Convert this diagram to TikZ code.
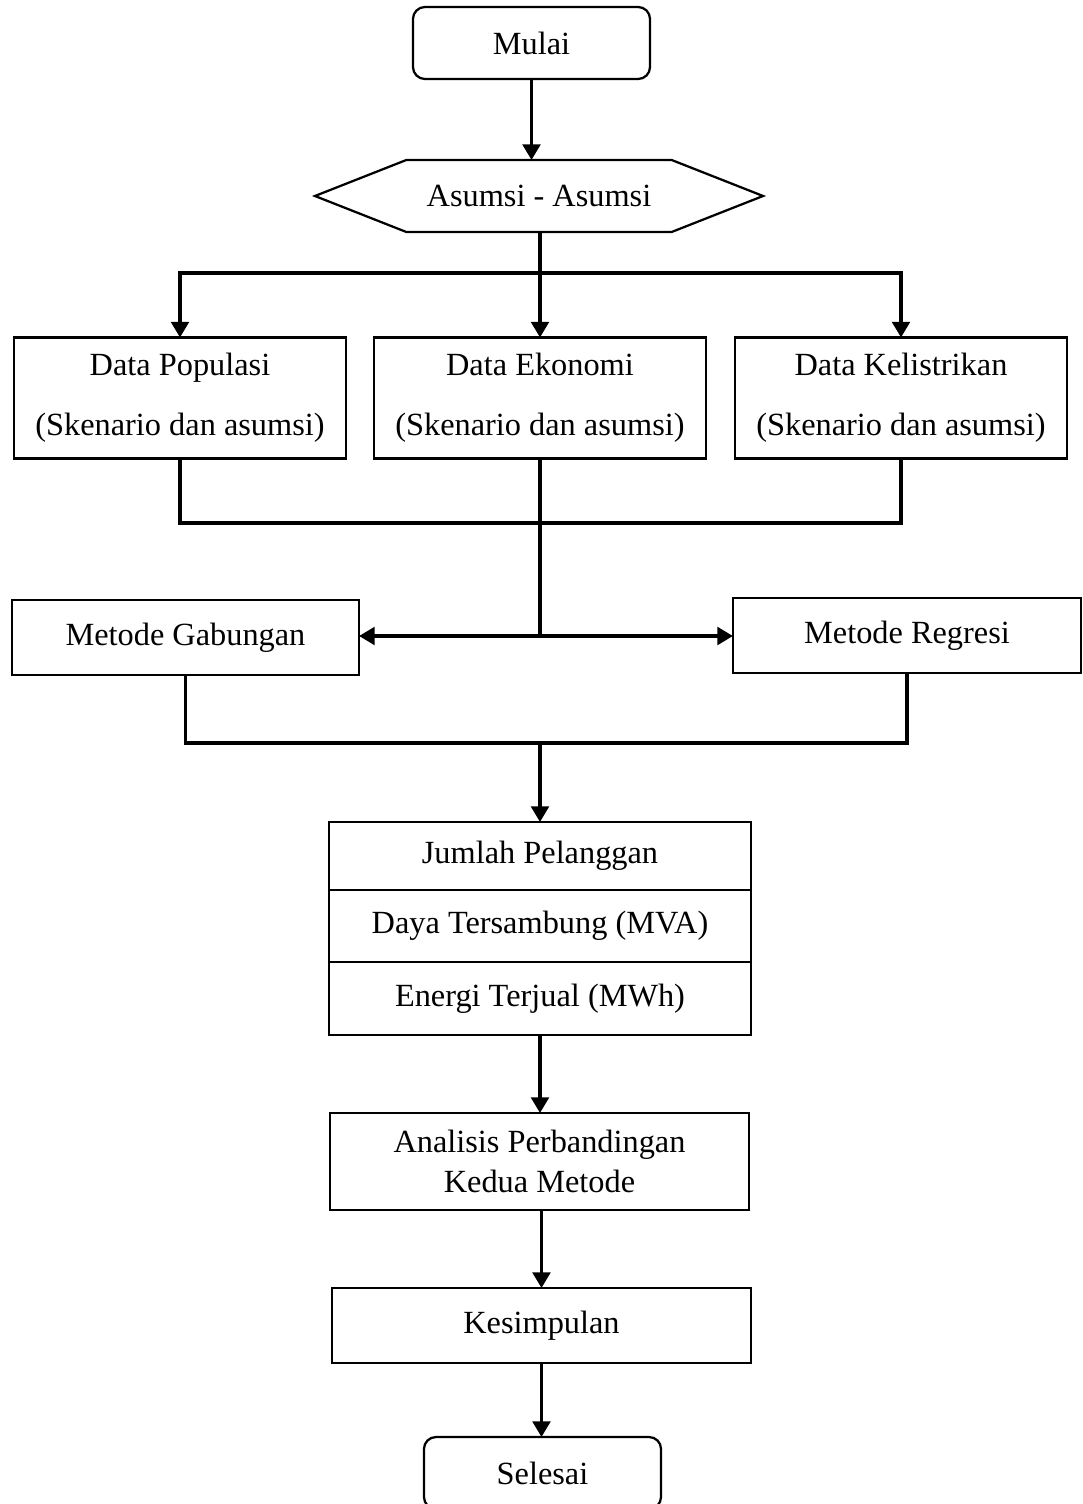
\documentclass[tikz,border=0pt]{standalone}
\usepackage{fontspec}
\setmainfont{Liberation Serif}
\usetikzlibrary{arrows.meta,shapes.symbols}
\begin{document}
\begin{tikzpicture}[x=0.025cm,y=-0.025cm,
   every node/.style={font=\fontsize{23}{28.5}\selectfont,inner sep=0pt,outer sep=0pt},
   box/.style={draw,line width=1.6pt,align=center},
   term/.style={box,rounded corners=0.3cm},
   conn/.style={line width=2.4pt},
   arr/.style={conn,-{Triangle[width=0.44cm,length=0.39cm]}}]
   \useasboundingbox (0,0) rectangle (1083,1504);
   % Top
   \node[term,minimum width=5.925cm,minimum height=1.8cm] (mulai) at (531.5,43) {Mulai};
   \node[box,shape=signal,signal to=west and east,signal pointer angle=43,
     minimum width=11.2cm,minimum height=1.8cm] (asumsi) at (539,196) {Asumsi - Asumsi};
   % Data
   \node[box,minimum width=8.3cm,minimum height=3.025cm] (pop) at (180,398) {Data Populasi\\[14pt](Skenario dan asumsi)};
   \node[box,minimum width=8.3cm,minimum height=3.025cm] (eko) at (540,398) {Data Ekonomi\\[14pt](Skenario dan asumsi)};
   \node[box,minimum width=8.3cm,minimum height=3.025cm] (kel) at (901,398) {Data Kelistrikan\\[14pt](Skenario dan asumsi)};
   % Methods
   \node[box,minimum width=8.675cm,minimum height=1.875cm] (gab) at (185.5,637.5) {Metode Gabungan};
   \node[box,minimum width=8.7cm,minimum height=1.875cm] (reg) at (907,635.5) {Metode Regresi};
   % Results
   \node[box,minimum width=10.55cm,minimum height=1.7cm] (jumlah) at (540,856) {Jumlah Pelanggan};
   \node[box,minimum width=10.55cm,minimum height=1.8cm] (daya) at (540,926) {Daya Tersambung (MVA)};
   \node[box,minimum width=10.55cm,minimum height=1.825cm] (energi) at (540,998.5) {Energi Terjual (MWh)};
   \node[box,minimum width=10.475cm,minimum height=2.425cm] (analisis) at (539.5,1161.5) {Analisis Perbandingan\\Kedua Metode};
   \node[box,minimum width=10.475cm,minimum height=1.875cm] (kesimpulan) at (541.5,1325.5) {Kesimpulan};
   \node[term,minimum width=5.925cm,minimum height=1.8cm] (selesai) at (542.5,1473) {Selesai};
   % Junctions
   \coordinate (split) at (540,273);
   \coordinate (merge1) at (540,523);
   \coordinate (fork) at (540,636);
   \coordinate (merge2) at (540,743);
   % Arrows
   \draw[arr] (mulai.south) -- (mulai.south |- asumsi.north);
   \draw[arr] (split |- asumsi.south) -- (eko.north);
   \draw[arr] (split) -| (pop.north);
   \draw[arr] (split) -| (kel.north);
   \draw[conn] (pop.south) |- (merge1) -| (kel.south);
   \draw[conn] (eko.south) -- (fork);
   \draw[arr] (fork) -- (fork -| gab.east);
   \draw[arr] (fork) -- (fork -| reg.west);
   \draw[conn] (gab.south) |- (merge2) -| (reg.south);
   \draw[arr] (merge2) -- (jumlah.north);
   \draw[arr] (energi.south) -- (energi.south |- analisis.north);
   \draw[arr] (kesimpulan.north |- analisis.south) -- (kesimpulan.north);
   \draw[arr] (kesimpulan.south) -- (kesimpulan.south |- selesai.north);
\end{tikzpicture}
\end{document}
